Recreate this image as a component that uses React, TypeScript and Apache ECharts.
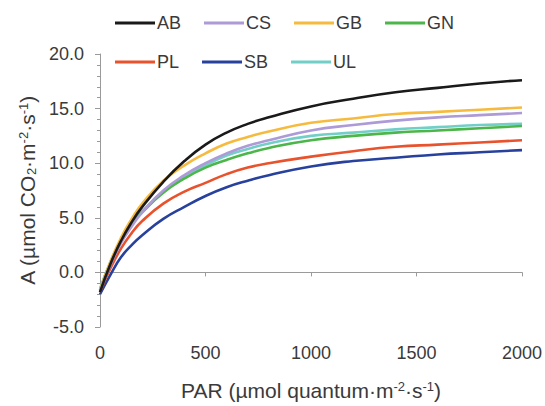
import React, { useEffect, useRef } from "react";
import * as echarts from "echarts";

const par = [0, 50, 100, 150, 200, 300, 400, 500, 600, 700, 800, 1000, 1200, 1400, 1600, 1800, 2000];

const AB = [-1.8, 0.8, 2.9, 4.6, 6.0, 8.3, 10.2, 11.7, 12.8, 13.6, 14.2, 15.2, 15.9, 16.5, 16.9, 17.3, 17.6];
const CS = [-1.7, 0.7, 2.7, 4.2, 5.5, 7.5, 8.9, 10.0, 10.9, 11.6, 12.1, 13.0, 13.5, 13.9, 14.2, 14.4, 14.6];
const GB = [-1.6, 1.0, 3.2, 4.9, 6.3, 8.4, 9.8, 10.9, 11.8, 12.4, 12.9, 13.7, 14.1, 14.5, 14.7, 14.9, 15.1];
const GN = [-1.6, 0.9, 2.9, 4.4, 5.5, 7.3, 8.6, 9.6, 10.3, 10.9, 11.4, 12.1, 12.5, 12.8, 13.0, 13.2, 13.4];
const PL = [-1.8, 0.4, 2.2, 3.6, 4.7, 6.3, 7.4, 8.2, 9.0, 9.6, 10.0, 10.6, 11.1, 11.5, 11.7, 11.9, 12.1];
const SB = [-2.0, -0.2, 1.4, 2.5, 3.4, 4.9, 6.0, 7.0, 7.8, 8.4, 8.9, 9.7, 10.2, 10.5, 10.8, 11.0, 11.2];
const UL = [-1.5, 1.0, 3.0, 4.5, 5.6, 7.4, 8.7, 9.8, 10.7, 11.3, 11.8, 12.5, 12.8, 13.1, 13.3, 13.5, 13.6];

const names = ["AB", "CS", "GB", "GN", "PL", "SB", "UL"];
const values = [AB, CS, GB, GN, PL, SB, UL];
const colors = ["#1a1a1a", "#ad9ad6", "#f6bb3e", "#4cb64a", "#e8522c", "#27419c", "#72cfc8"];

const yTicks = [-5, 0, 5, 10, 15, 20];
const xTicks = [0, 500, 1000, 1500, 2000];

const FONT = "'Liberation Sans', Arial, sans-serif";
const TXT = "#3a3a3a";

export default function App() {
  const ref = useRef<HTMLDivElement>(null);
  useEffect(() => {
    if (!ref.current) return;
    const chart = echarts.init(ref.current, null, { renderer: "svg" });
    const legendBase = {
      icon: "rect",
      itemWidth: 40,
      itemHeight: 3,
      itemGap: 23,
      orient: "horizontal",
      textStyle: { fontFamily: FONT, fontSize: 18, color: TXT, padding: [0, 0, 0, -3] },
    };
    chart.setOption({
      animation: false,
      textStyle: { fontFamily: FONT },
      grid: { left: 100, right: 23, top: 54, bottom: 79, containLabel: false, outerBoundsMode: "none" },
      legend: [
        { ...legendBase, data: names.slice(0, 4), left: 110, top: 9 },
        { ...legendBase, data: names.slice(4), left: 110, top: 48 },
      ],
      xAxis: [
        {
          type: "value",
          min: xTicks[0],
          max: xTicks[xTicks.length - 1],
          interval: 500,
          position: "bottom",
          axisLine: { show: false, onZero: false },
          axisTick: { show: false },
          splitLine: { show: false },
          axisLabel: { fontFamily: FONT, fontSize: 18, color: TXT, margin: 17, formatter: (v: number) => String(v) },
          name: "PAR (µmol quantum·m{sup|-2}·s{sup|-1})",
          nameLocation: "middle",
          nameGap: 53,
          nameTextStyle: {
            fontFamily: FONT,
            fontSize: 21,
            color: TXT,
            rich: { sup: { fontFamily: FONT, fontSize: 13, color: TXT, verticalAlign: "top", lineHeight: 21 } },
          },
        },
        {
          type: "value",
          min: xTicks[0],
          max: xTicks[xTicks.length - 1],
          interval: 500,
          position: "top",
          axisLine: { show: true, onZero: true, lineStyle: { color: "#9a9a9a", width: 1 } },
          axisTick: { show: true, inside: true, length: 4, lineStyle: { color: "#9a9a9a" } },
          axisLabel: { show: false },
          splitLine: { show: false },
        },
      ],
      yAxis: {
        type: "value",
        min: yTicks[0],
        max: yTicks[yTicks.length - 1],
        interval: 5,
        axisLine: { show: true, onZero: false, lineStyle: { color: "#9a9a9a", width: 1 } },
        axisTick: { show: true, length: 5, lineStyle: { color: "#9a9a9a" } },
        minorTick: { show: true, splitNumber: 5, length: 3, lineStyle: { color: "#9a9a9a" } },
        splitLine: { show: false },
        axisLabel: {
          fontFamily: FONT,
          fontSize: 18,
          color: TXT,
          margin: 16,
          formatter: (v: number) => v.toFixed(1),
        },
        name: "A (µmol CO{sub|2}·m{sup|-2}·s{sup|-1})",
        nameLocation: "middle",
        nameGap: 56,
        nameRotate: 90,
        nameTextStyle: {
          fontFamily: FONT,
          fontSize: 21,
          color: TXT,
          rich: {
            sup: { fontFamily: FONT, fontSize: 13, color: TXT, verticalAlign: "top", lineHeight: 21 },
            sub: { fontFamily: FONT, fontSize: 13, color: TXT, verticalAlign: "bottom", lineHeight: 21 },
          },
        },
      },
      series: names.map((n, i) => ({
        name: n,
        type: "line",
        xAxisIndex: 0,
        data: par.map((p, j) => [p, values[i][j]]),
        smooth: 0.5,
        showSymbol: false,
        symbol: "none",
        lineStyle: { color: colors[i], width: 2.6 },
        itemStyle: { color: colors[i] },
        z: 10 - i,
      })),
    });
    return () => chart.dispose();
  }, []);
  return <div ref={ref} style={{ position: "absolute", left: 0, top: 0, width: 545, height: 406 }} />;
}
